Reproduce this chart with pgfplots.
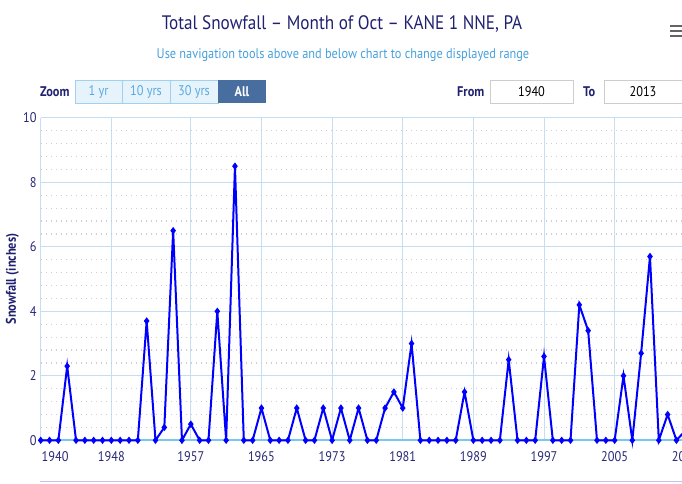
\documentclass[border=0pt]{standalone}
\usepackage{pgfplots}
\pgfplotsset{compat=1.18}
\usepackage{fontspec}
\setmainfont{PT Sans}[FakeStretch=0.88]
\definecolor{titlecol}{RGB}{32,32,112}
\definecolor{subcol}{RGB}{70,160,220}
\definecolor{gridcol}{RGB}{198,222,242}
\definecolor{minorcol}{RGB}{205,205,215}
\definecolor{zerocol}{RGB}{120,200,240}
\definecolor{tickcol}{RGB}{40,40,120}
\definecolor{btnfill}{RGB}{230,243,251}
\definecolor{btnborder}{RGB}{160,210,240}
\definecolor{btntext}{RGB}{90,170,225}
\definecolor{allfill}{RGB}{72,110,160}
\definecolor{boxborder}{RGB}{205,205,205}
\definecolor{navcol}{RGB}{195,195,238}
\definecolor{menucol}{RGB}{100,100,100}
\definecolor{linecol}{RGB}{0,0,255}
\begin{document}
\begin{tikzpicture}[x=1pt,y=1pt]
\useasboundingbox (0,0) rectangle (682,483);
\clip (0,0) rectangle (682,483);
% title and subtitle
\node[text=titlecol, font=\fontsize{19.5}{23}\selectfont] at (342,459) {Total Snowfall -- Month of Oct -- KANE 1 NNE, PA};
\node[text=subcol, font=\fontsize{14}{16}\selectfont] at (343,428) {Use navigation tools above and below chart to change displayed range};
% menu icon
\foreach \yy in {457,452,447} {\fill[menucol] (670,\yy-1.3) rectangle (684,\yy+1.3);}
% zoom buttons
\node[text=titlecol, font=\fontsize{14}{16}\selectfont\bfseries, anchor=west, inner sep=0pt] at (40,391.5) {Zoom};
\draw[btnborder, fill=btnfill] (75,380) rectangle (218,403);
\draw[btnborder] (122,380) -- (122,403);
\draw[btnborder] (170,380) -- (170,403);
\fill[allfill] (218,380) rectangle (266,403);
\node[text=btntext, font=\fontsize{14}{16}\selectfont] at (98.5,391.5) {1 yr};
\node[text=btntext, font=\fontsize{14}{16}\selectfont] at (146,391.5) {10 yrs};
\node[text=btntext, font=\fontsize{14}{16}\selectfont] at (194,391.5) {30 yrs};
\node[text=white, font=\fontsize{14}{16}\selectfont\bfseries] at (242,391.5) {All};
% from / to
\node[text=titlecol, font=\fontsize{14}{16}\selectfont\bfseries, anchor=west, inner sep=0pt] at (457,391.5) {From};
\draw[boxborder, fill=white] (490,380) rectangle (573,403);
\node[text=black, font=\fontsize{14}{16}\selectfont] at (531.5,391.5) {1940};
\node[text=titlecol, font=\fontsize{14}{16}\selectfont\bfseries, anchor=west, inner sep=0pt] at (583,391.5) {To};
\draw[boxborder, fill=white] (604,380) rectangle (690,403);
\node[text=black, font=\fontsize{14}{16}\selectfont] at (643,391.5) {2013};
% navigator top line
\draw[navcol, line width=1.2] (40,1.5) -- (690,1.5);
\begin{axis}[
  at={(40.7pt,42.7pt)}, anchor=south west,
  scale only axis, width=649pt, height=322.5pt,
  xmin=1940, xmax=2013.5, ymin=0, ymax=10,
  axis line style={draw=none},
  clip=false,
  xtick={1940,1948,1957,1965,1973,1981,1989,1997,2005,2013},
  xticklabels={\makebox[0pt][l]{\hspace{1pt}1940},1948,1957,1965,1973,1981,1989,1997,2005,2013},
  ytick={0,2,4,6,8,10},
  yticklabels={0,2,4,6,8,10},
  minor y tick num=4,
  major tick length=0pt, minor tick length=0pt,
  xmajorgrids, ymajorgrids, yminorgrids,
  major grid style={gridcol, line width=1},
  minor y grid style={minorcol, line width=1.2, dash pattern=on 1.2pt off 3.8pt},
  /pgf/number format/assume math mode=true,
  tick label style={text=tickcol, font=\fontsize{14}{16}\selectfont},
  xticklabel style={yshift=-8pt},
  yticklabel style={xshift=-0.5pt},
  ylabel={Snowfall (inches)},
  every axis y label/.style={at={(axis description cs:0,0.5)}, xshift=-28.2pt, rotate=90, anchor=center,
     font=\fontsize{14}{16}\selectfont\bfseries, text=titlecol},
]
\draw[gridcol, line width=1] (axis cs:1940,0) -- (axis cs:1940,10);
\draw[zerocol, line width=2] (axis cs:1940,0) -- (axis cs:2013.5,0);
\addplot[color=linecol, line width=2, mark=diamond*, mark size=2.1, mark options={solid}] coordinates {
(1940,0) (1941,0) (1942,0) (1943,2.3) (1944,0) (1945,0) (1946,0) (1947,0) (1948,0) (1949,0)
(1950,0) (1951,0) (1952,3.7) (1953,0) (1954,0.4) (1955,6.5) (1956,0) (1957,0.5) (1958,0) (1959,0)
(1960,4.0) (1961,0) (1962,8.5) (1963,0) (1964,0) (1965,1.0) (1966,0) (1967,0) (1968,0) (1969,1.0)
(1970,0) (1971,0) (1972,1.0) (1973,0) (1974,1.0) (1975,0) (1976,1.0) (1977,0) (1978,0) (1979,1.0)
(1980,1.5) (1981,1.0) (1982,3.0) (1983,0) (1984,0) (1985,0) (1986,0) (1987,0) (1988,1.5) (1989,0)
(1990,0) (1991,0) (1992,0) (1993,2.5) (1994,0) (1995,0) (1996,0) (1997,2.6) (1998,0) (1999,0)
(2000,0) (2001,4.2) (2002,3.4) (2003,0) (2004,0) (2005,0) (2006,2.0) (2007,0) (2008,2.7) (2009,5.7)
(2010,0) (2011,0.8) (2012,0) (2013,0.3)
};
\end{axis}
\end{tikzpicture}
\end{document}
